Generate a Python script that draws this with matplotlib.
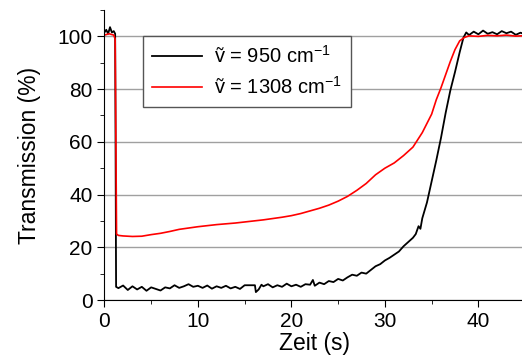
import numpy as np
import matplotlib.pyplot as plt
from matplotlib.ticker import MultipleLocator

plt.rcParams['font.family'] = ['Liberation Sans', 'DejaVu Sans']
plt.rcParams['mathtext.fontset'] = 'custom'
plt.rcParams['mathtext.rm'] = 'Liberation Sans'

# 950 cm-1 (black)
t_950 = [0, 0.2, 0.4, 0.6, 0.8, 1.0, 1.15, 1.25, 1.5, 2.0, 2.5, 3.0, 3.5, 4.0, 4.5,
         5.0, 5.5, 6.0, 6.5, 7.0, 7.5, 8.0, 8.5, 9.0, 9.5, 10.0, 10.5, 11.0, 11.5,
         12.0, 12.5, 13.0, 13.5, 14.0, 14.5, 15.0, 15.3, 16.1, 16.2, 16.5, 16.8,
         17.0, 17.5, 18.0, 18.5, 19.0, 19.5, 20.0, 20.5, 21.0, 21.5, 22.0, 22.3,
         22.5, 23.0, 23.5, 24.0, 24.5, 25.0, 25.5, 26.0, 26.5, 27.0, 27.5, 28.0,
         28.5, 29.0, 29.5, 30.0, 30.5, 31.0, 31.5, 32.0, 32.5, 33.0, 33.3, 33.6,
         33.8, 34.0, 34.5, 35.0, 35.5, 36.0, 36.5, 37.0, 37.5, 38.0, 38.4, 38.7,
         39.0, 39.5, 40.0, 40.5, 41.0, 41.5, 42.0, 42.5, 43.0, 43.5, 44.0, 44.5, 45.0]
T_950 = [101.5, 102.5, 101, 103.5, 101.5, 102, 101, 5, 4.5, 5.5, 3.8, 5.2, 4.0, 5.0, 3.5,
         4.8, 4.2, 3.6, 4.8, 4.4, 5.6, 4.6, 5.2, 6.0, 5.0, 5.4, 4.6, 5.5, 4.3,
         5.2, 4.6, 5.4, 4.4, 5.0, 4.2, 5.6, 5.6, 5.6, 3.0, 4.0, 5.8,
         5.2, 6.0, 4.8, 5.6, 5.0, 6.2, 5.2, 5.8, 5.0, 6.0, 5.8, 7.6,
         5.4, 6.6, 6.0, 7.2, 6.8, 8.0, 7.4, 8.6, 9.6, 9.2, 10.4, 10.0,
         11.4, 12.8, 13.6, 15.0, 16.0, 17.2, 18.4, 20.4, 22.0, 23.6, 25.0, 28.0,
         27.0, 31.0, 37.0, 45.0, 53.0, 61.5, 71.0, 79.5, 86.5, 94.0, 99.5, 101.5,
         100.5, 101.8, 100.8, 102.2, 101.0, 101.6, 100.8, 102.0, 101.2, 101.8, 100.6, 101.4, 100.8]

# 1308 cm-1 (red)
t_1308 = [0, 0.5, 1.0, 1.15, 1.3, 1.5, 2, 3, 4, 5, 6, 7, 8, 9, 10, 11, 12, 13, 14, 15,
          16, 17, 18, 19, 20, 21, 22, 23, 24, 25, 26, 27, 28, 29, 30, 31, 32, 33,
          34, 35, 35.5, 36, 36.5, 37, 37.5, 38, 38.5, 39, 40, 41, 42, 43, 44, 45]
T_1308 = [100.5, 101, 100.5, 99, 25, 24.5, 24.3, 24.1, 24.2, 24.8, 25.3, 26, 26.8, 27.3,
          27.8, 28.2, 28.6, 28.9, 29.2, 29.6, 30.0, 30.4, 30.9, 31.4, 32.0, 32.8, 33.8,
          34.8, 36.0, 37.5, 39.3, 41.6, 44.2, 47.5, 50.0, 52.0, 54.8, 58.0, 63.5, 70.5,
          76.0, 80.5, 85.5, 90.5, 95.0, 98.3, 99.6, 100.2, 100.0, 100.4, 100.2, 100.5,
          100.1, 100.3]

fig = plt.figure(figsize=(5.22, 3.58), dpi=100)
ax = fig.add_axes([0.2, 0.162, 0.806, 0.81])

ax.plot(t_950, T_950, color='black', lw=1.3, label=r'ṽ = 950 cm$^{-1}$')
ax.plot(t_1308, T_1308, color='red', lw=1.2, label=r'ṽ = 1308 cm$^{-1}$')

ax.set_xlim(0, 45)
ax.set_ylim(0, 110)
ax.xaxis.set_major_locator(MultipleLocator(10))
ax.xaxis.set_minor_locator(MultipleLocator(5))
ax.yaxis.set_minor_locator(MultipleLocator(10))
ax.set_yticks([0, 20, 40, 60, 80, 100])
ax.grid(axis='y', which='major', color='#a0a0a0', lw=1)
ax.set_axisbelow(True)
ax.spines['top'].set_visible(False)
ax.spines['right'].set_visible(False)
ax.tick_params(which='major', direction='out', length=5, labelsize=15)
ax.tick_params(which='minor', direction='out', length=3)

ax.set_xlabel('Zeit (s)', fontsize=16.5, labelpad=1)
ax.set_ylabel('Transmission (%)', fontsize=16.5, labelpad=12)

leg = ax.legend(loc='upper left', bbox_to_anchor=(0.0915, 0.91), borderaxespad=0,
                fontsize=14.5, fancybox=False, framealpha=1, edgecolor='#555555',
                handlelength=2.5, handletextpad=0.6, borderpad=0.45,
                labelspacing=0.45)
leg.get_frame().set_linewidth(1)

fig.savefig('out.png', dpi=100)
